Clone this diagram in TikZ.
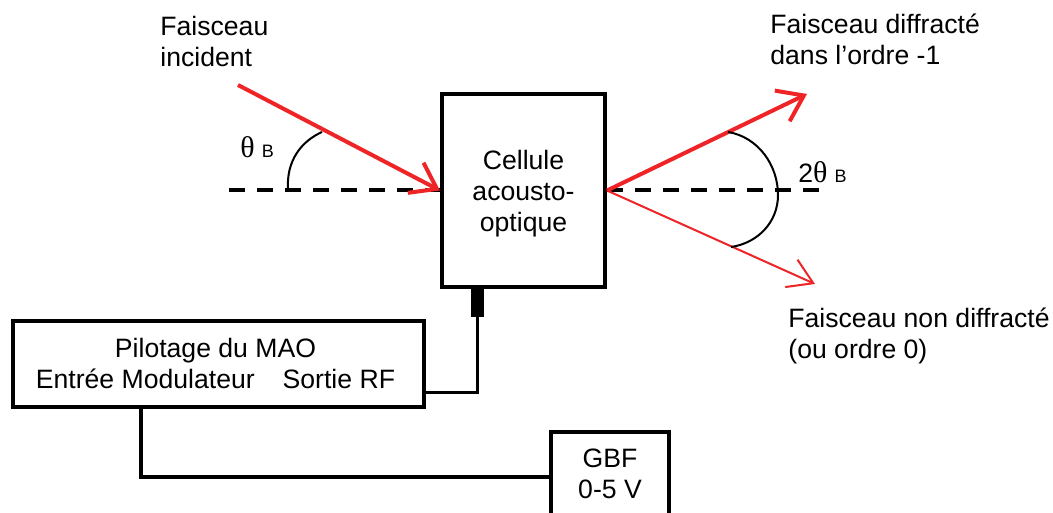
\documentclass[tikz,border=0pt]{standalone}
\usepackage{fontspec}
\setmainfont{Liberation Sans}
\newfontfamily\symfont{Liberation Serif}
\usetikzlibrary{positioning,arrows.meta,calc}
\definecolor{maoRed}{HTML}{EE2427}
\newcommand{\thetaB}{{\symfont\fontsize{15}{15}\selectfont θ}\hspace{3.5pt}{\fontsize{9}{9}\selectfont B}}

\begin{document}
\begin{tikzpicture}[
      x=0.5pt, y=-0.5pt,
      box/.style={draw=black, line width=2pt, fill=white, align=center,
        inner sep=0pt, font=\fontsize{13.3}{15.5}\selectfont},
      lab/.style={align=left, inner sep=0pt, anchor=west,
        font=\fontsize{13.3}{15.5}\selectfont},
      wire/.style={line width=1.75pt, color=black},
      axis/.style={line width=2pt, color=black, dash pattern=on 8pt off 6pt},
      angle/.style={line width=1pt, color=black},
      beam/.style={-{Straight Barb[length=12pt,width=17pt,line width=2pt]}, line width=2pt, color=maoRed},
      beamthin/.style={-{Straight Barb[length=12pt,width=15pt,line width=1pt]}, line width=1pt, color=maoRed}]
    \useasboundingbox (0,0) rectangle (1053,513);
    % boxes
    \node[box, minimum width=81.5pt, minimum height=96.5pt] (cell) at (523.5,190.5) {\rule{0pt}{13pt}Cellule\\acousto-\\optique};
    \node[box, minimum width=205.5pt, minimum height=43pt] (pilot) at (218.5,363.5) {Pilotage du MAO\hspace*{3pt}\\Entrée Modulateur\hspace{14pt}Sortie RF\hspace*{3pt}};
    \node[box, minimum width=59pt, minimum height=42pt, anchor=north] (gbf) at (610,430) {GBF\\0-5 V};
    \fill[black] ($(cell.south)+(-52.5,0)$) rectangle ($(cell.south)+(-39.5,28)$);
    \coordinate (stub) at ($(cell.south)+(-46,28)$);
    % wires
    \draw[wire] (stub) |- ($(pilot.east)+(0,29)$);
    \coordinate (pilotout) at ($(pilot.south west)+(130,0)$);
    \draw[wire] (pilotout) |- (gbf.west |- 0,477);
    % axis and beams
    \coordinate (inc) at (238,85);
    \coordinate (axisl) at (229,190.5);
    \coordinate (axisr) at (822,190.5);
    \coordinate (ordm) at (807,94);
    \coordinate (ordz) at (815,284);
    \draw[axis] (axisl) -- (cell.west);
    \draw[axis] (cell.east) -- (axisr);
    \draw[beam] (inc) -- (cell.west);
    \draw[beam] (cell.east) -- (ordm);
    \draw[beamthin] (cell.east) -- (ordz);
    % angles
    \draw[angle] (288,190) .. controls (286,160) and (302,141) .. (322,132);
    \draw[angle] (728,132) .. controls (758,137) and (778,165) .. (778,195) .. controls (778,222) and (758,243) .. (731,247);
    % labels
    \node[lab] (lincident) at (160,41) {Faisceau\\incident};
    \node[lab] (lordm) at (770,39) {Faisceau diffracté\\dans l’ordre -1};
    \node[lab] (lordz) at (788,336) {Faisceau non diffracté\\(ou ordre 0)};
    \node[lab] (ltheta) at (240,147) {\thetaB};
    \node[lab] (ltwotheta) at (798,172) {2\thetaB};
  \end{tikzpicture}
\end{document}
